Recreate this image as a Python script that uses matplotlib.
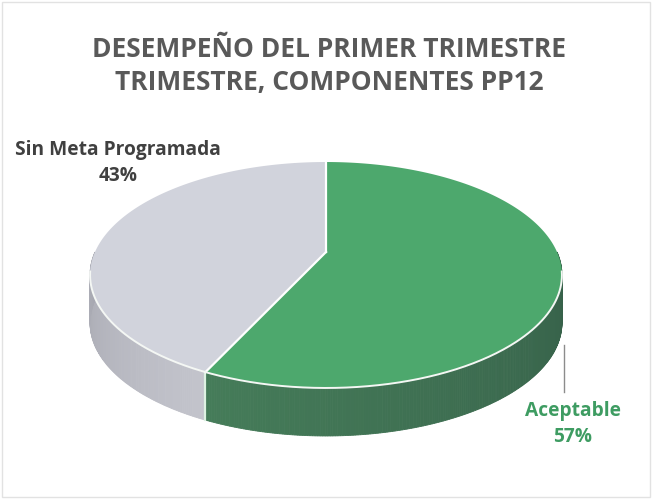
import numpy as np
import matplotlib
matplotlib.use("Agg")
import matplotlib.pyplot as plt
from matplotlib.patches import Polygon, Rectangle
from matplotlib.colors import to_rgb

# ---- data ----
categories = ["Aceptable", "Sin Meta Programada"]
values = [57, 43]
pct_labels = ["57%", "43%"]
title = "DESEMPEÑO DEL PRIMER TRIMESTRE\nTRIMESTRE, COMPONENTES PP12"

top_colors = ["#4DA86D", "#D1D3DC"]
side_dark = ["#355E48", "#A7A8B1"]
side_light = ["#457C59", "#C3C4CC"]

W, H = 653, 500
fig = plt.figure(figsize=(W / 100, H / 100), dpi=100)
ax = fig.add_axes([0, 0, 1, 1])
ax.set_xlim(0, W)
ax.set_ylim(H, 0)
ax.axis("off")

# perspective geometry (pixel space)
cx, cy0 = 326, 252          # projected pie centre
k = 0.2035                  # perspective strength
A, B = 231, 108.3           # projected radii
depth = 48

def pt(theta_deg, dy=0.0):
    t = np.radians(theta_deg)
    u, v = np.sin(t), -np.cos(t)
    d = 1 - k * v
    return cx + A * u / d, cy0 + B * v / d + dy

total = float(sum(values))
bounds = [0.0]
for v in values:
    bounds.append(bounds[-1] + 360.0 * v / total)

# ---- sides ----
def side_strips(t0, t1, c_from, c_to):
    n = max(int(abs(t1 - t0)), 2) * 2
    ts = np.linspace(t0, t1, n + 1)
    c0, c1 = np.array(to_rgb(c_from)), np.array(to_rgb(c_to))
    for i in range(n):
        ta, tb = ts[i], ts[i + 1]
        xa, ya = pt(ta)
        xb, yb = pt(tb)
        f = i / max(n - 1, 1)
        col = c0 + (c1 - c0) * f
        poly = [(xa, ya), (xb, yb), (xb, yb + depth), (xa, ya + depth)]
        ax.add_patch(Polygon(poly, closed=True, facecolor=col, edgecolor=col, lw=0.6))

split = bounds[1]
side_strips(90, split, side_dark[0], side_light[0])
side_strips(split, 270, side_light[1], side_dark[1])

sx, sy = pt(split)
ax.plot([sx, sx], [sy, sy + depth], color="#DDF2E2", lw=1.6)

# ---- top face wedges ----
for i in range(len(values)):
    ts = np.linspace(bounds[i], bounds[i + 1], 300)
    pts = [(cx, cy0)] + [pt(t) for t in ts]
    ax.add_patch(Polygon(pts, closed=True, facecolor=top_colors[i], edgecolor="none"))

for t in [bounds[0], bounds[1]]:
    x, y = pt(t)
    ax.plot([cx, x], [cy0, y], color="white", lw=1.6)

ts = np.linspace(100, 260, 300)
xs, ys = zip(*[pt(t) for t in ts])
ax.plot(xs, ys, color="#F4F7F4", lw=1.4)

# ---- title ----
ax.text(W / 2 + 3, 66, title, ha="center", va="center", fontsize=19,
        fontweight="bold", color="#595959", family="Open Sans", linespacing=1.3)

# ---- labels ----
ax.text(118, 163, f"{categories[1]}\n{pct_labels[1]}", ha="center", va="center",
        fontsize=13.8, fontweight="bold", color="#404040", family="Open Sans",
        linespacing=1.35)
ax.text(573, 424, f"{categories[0]}\n{pct_labels[0]}", ha="center", va="center",
        fontsize=13.8, fontweight="bold", color="#3E9C62", family="Open Sans",
        linespacing=1.35)
ax.plot([564, 564], [345, 392], color="#8C8C8C", lw=1.0)

ax.add_patch(Rectangle((2, 2), W - 5, H - 5, fill=False, edgecolor="#E2E2E2", lw=1.0))

fig.savefig("out.png", dpi=100, facecolor="white")
